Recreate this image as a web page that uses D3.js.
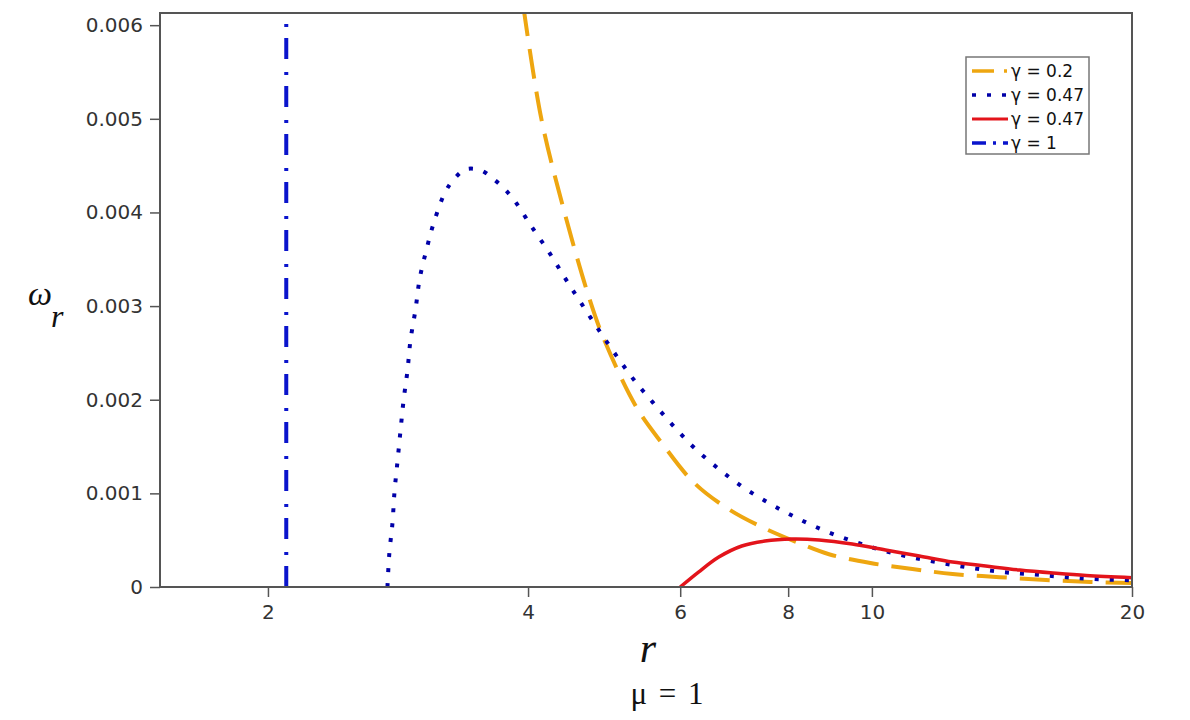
<!DOCTYPE html>
<html>
<head>
	<title>omega_r vs r</title>
	<meta charset="UTF-8">
	<script src="https://d3js.org/d3.v7.min.js"></script>
	<style>
		body { margin: 0; background: #fff; }
	</style>
</head>
<body>
	<svg width="1190" height="720"></svg>
	<script>
		// values: r and omega_r for each curve
		const rG02 = [3.95, 4.14, 4.37, 4.71, 4.90, 5.34, 5.71, 6.23, 6.83, 7.46, 8.23, 8.92, 9.96, 11.14, 12.40, 14.06, 15.9, 17.9, 20];
		const wG02 = [0.0062, 0.00502, 0.00413, 0.00308, 0.00264, 0.00192, 0.00154, 0.00111, 0.00083, 0.00064, 0.00047, 0.00035, 0.000256, 0.000192, 0.000139, 0.000105, 0.000075, 0.000053, 0.000042];

		const rG047dot = [2.75, 2.764, 2.787, 2.802, 2.824, 2.847, 2.870, 2.901, 2.924, 2.964, 2.996, 3.052, 3.118, 3.211, 3.290, 3.388, 3.527, 3.651, 3.760, 3.862, 4.042, 4.230, 4.415, 4.608, 4.823, 5.047, 5.296, 5.587, 5.894, 6.234, 6.630, 7.089, 7.600, 8.147, 8.780, 9.489, 10.25, 11.08, 12.04, 13.05, 14.14, 15.36, 16.64, 18.08, 20];
		const wG047dot = [0, 0.000363, 0.000683, 0.001014, 0.001334, 0.001665, 0.001985, 0.002316, 0.002636, 0.002967, 0.003287, 0.003607, 0.003917, 0.004226, 0.004365, 0.004461, 0.004450, 0.004354, 0.004248, 0.004120, 0.003842, 0.003575, 0.003298, 0.003031, 0.002753, 0.002487, 0.002220, 0.001964, 0.001718, 0.001483, 0.001270, 0.001067, 0.000896, 0.000747, 0.000608, 0.000491, 0.000395, 0.000320, 0.000256, 0.000203, 0.000160, 0.000135, 0.000107, 0.000085, 0.000072];

		const rG047 = [6.0, 6.30, 6.65, 7.07, 7.52, 8.08, 8.69, 9.49, 10.37, 11.35, 12.40, 13.54, 14.83, 16.20, 17.70, 20];
		const wG047 = [0, 0.000160, 0.000320, 0.000438, 0.000491, 0.000512, 0.000502, 0.000459, 0.000395, 0.000331, 0.000267, 0.000224, 0.000181, 0.000149, 0.000122, 0.000100];

		const rG1 = [2.1, 2.1];
		const wG1 = [0, 0.0062];

		const xTicks = [2, 4, 6, 8, 10, 20];
		const yTicks = [0, 0.001, 0.002, 0.003, 0.004, 0.005, 0.006];
		const legendLabels = ["γ = 0.2", "γ = 0.47", "γ = 0.47", "γ = 1"];

		const plotLeft = 160, plotRight = 1132, plotTop = 13, plotBottom = 587;

		const svg = d3.select("svg");

		const x = d3.scaleLog().domain([1.5, 20]).range([plotLeft, plotRight]);
		const y = d3.scaleLinear().domain([0, 0.00613]).range([plotBottom, plotTop]);

		// series styles
		const series = [
			{ r: rG02, w: wG02, color: "#eea610", width: 4, dash: "30,13", curve: true },
			{ r: rG047dot, w: wG047dot, color: "#0000a8", width: 4, dash: "4,11", curve: true },
			{ r: rG047, w: wG047, color: "#e3141b", width: 3.5, dash: null, curve: true },
			{ r: rG1, w: wG1, color: "#0a14cc", width: 4, dash: "21,11,3,13", curve: false }
		];

		svg.append("defs").append("clipPath").attr("id", "plotclip")
			.append("rect")
			.attr("x", plotLeft).attr("y", plotTop)
			.attr("width", plotRight - plotLeft).attr("height", plotBottom - plotTop);

		// axes (ticks only, frame drawn separately)
		const xAxis = svg.append("g")
			.attr("transform", "translate(0," + plotBottom + ")")
			.call(d3.axisBottom(x).tickValues(xTicks).tickFormat(d3.format("d")).tickSize(10).tickPadding(8));

		const yAxis = svg.append("g")
			.attr("transform", "translate(" + plotLeft + ",0)")
			.call(d3.axisLeft(y).tickValues(yTicks)
				.tickFormat(d => d === 0 ? "0" : d3.format(".3f")(d))
				.tickSize(10).tickPadding(7));

		[xAxis, yAxis].forEach(function (g) {
			g.select(".domain").remove();
			g.selectAll(".tick line").attr("stroke", "#555").attr("stroke-width", 1.5);
			g.selectAll(".tick text")
				.attr("fill", "#333")
				.style("font-family", "'DejaVu Sans', Verdana, sans-serif")
				.style("font-size", "20px");
		});

		// curves
		const plot = svg.append("g").attr("clip-path", "url(#plotclip)");

		series.forEach(function (s) {
			const pts = s.r.map((r, i) => [r, s.w[i]]);
			const line = d3.line()
				.x(d => x(d[0]))
				.y(d => y(d[1]));
			if (s.curve) line.curve(d3.curveCatmullRom.alpha(0.5));
			plot.append("path")
				.datum(pts)
				.attr("d", line)
				.attr("fill", "none")
				.attr("stroke", s.color)
				.attr("stroke-width", s.width)
				.attr("stroke-dasharray", s.dash);
		});

		// frame
		svg.append("rect")
			.attr("x", plotLeft).attr("y", plotTop)
			.attr("width", plotRight - plotLeft).attr("height", plotBottom - plotTop)
			.attr("fill", "none")
			.attr("stroke", "#555")
			.attr("stroke-width", 2);

		// legend
		const legend = svg.append("g");
		legend.append("rect")
			.attr("x", 966).attr("y", 57)
			.attr("width", 123).attr("height", 97)
			.attr("fill", "#fff")
			.attr("stroke", "#777")
			.attr("stroke-width", 1.5);

		legendLabels.forEach(function (lab, i) {
			const yy = 71 + i * 24;
			legend.append("line")
				.attr("x1", 972).attr("x2", 1008)
				.attr("y1", yy).attr("y2", yy)
				.attr("stroke", series[i].color)
				.attr("stroke-width", series[i].width - 0.5)
				.attr("stroke-dasharray", i === 0 ? "22,10,3,10" : (i === 3 ? "14,7,3,7" : series[i].dash));
			legend.append("text")
				.attr("x", 1011).attr("y", yy + 6)
				.attr("fill", "#111")
				.style("font-family", "'DejaVu Sans', Verdana, sans-serif")
				.style("font-size", "17px")
				.text(lab);
		});

		// axis titles
		svg.append("text")
			.attr("x", 648).attr("y", 662)
			.attr("text-anchor", "middle")
			.style("font-family", "'Liberation Serif', 'DejaVu Serif', serif")
			.style("font-style", "italic")
			.style("font-size", "42px")
			.attr("fill", "#111")
			.text("r");

		svg.append("text")
			.attr("x", 667).attr("y", 704)
			.attr("text-anchor", "middle")
			.style("font-family", "'Liberation Serif', 'DejaVu Serif', serif")
			.style("font-size", "31px")
			.style("word-spacing", "4px")
			.attr("fill", "#111")
			.text("μ = 1");

		svg.append("text")
			.attr("x", 28).attr("y", 305)
			.style("font-family", "'Liberation Serif', 'DejaVu Serif', serif")
			.style("font-style", "italic")
			.style("font-size", "34px")
			.attr("fill", "#111")
			.text("ω");

		svg.append("text")
			.attr("x", 51).attr("y", 327)
			.style("font-family", "'Liberation Serif', 'DejaVu Serif', serif")
			.style("font-style", "italic")
			.style("font-size", "32px")
			.attr("fill", "#111")
			.text("r");
	</script>
</body>
</html>
